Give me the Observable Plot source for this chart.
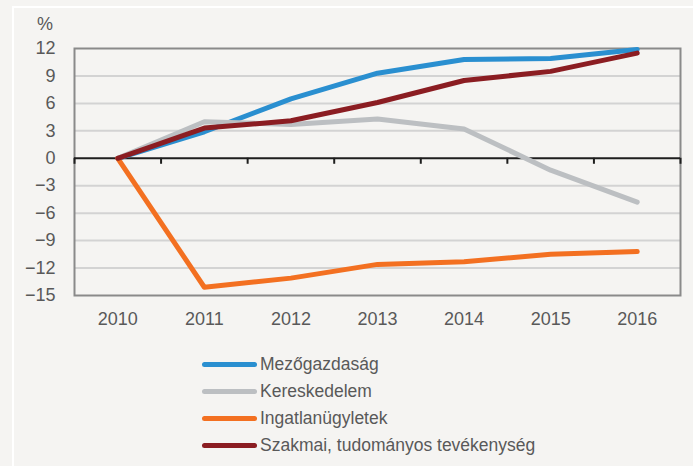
<!DOCTYPE html>
<html>
<head>
<meta charset="utf-8">
<script src="https://cdn.jsdelivr.net/npm/d3@7"></script>
<script src="https://cdn.jsdelivr.net/npm/@observablehq/plot@0.6"></script>
<style>
  html, body { margin: 0; padding: 0; background: #f5f4f2; }
  #wrap { position: relative; width: 693px; height: 466px; overflow: hidden; background: #f5f4f2;
          font-family: "Liberation Sans", Arial, sans-serif; color: #595959; }
  #frame { position: absolute; left: 12px; top: 6px; width: 720px; height: 500px; border: 2px solid #ffffff; }
  #chart { position: absolute; left: 0; top: 0; }
  #unit { position: absolute; left: 37px; top: 14px; font-size: 18px; }
  #legend { position: absolute; left: 202px; top: 351px; }
  .row { display: flex; align-items: center; height: 27px; font-size: 17.5px; }
  .sw { width: 55px; height: 5px; border-radius: 3px; margin-right: 3px; }
</style>
</head>
<body>
<div id="wrap">
  <div id="frame"></div>
  <div id="chart"></div>
  <div id="unit">%</div>
  <div id="legend"></div>
</div>
<script>
const years = [2010, 2011, 2012, 2013, 2014, 2015, 2016];
const seriesNames = ["Mezőgazdaság", "Kereskedelem", "Ingatlanügyletek", "Szakmai, tudományos tevékenység"];
const seriesColors = ["#2a8fd0", "#bcbfc2", "#f37021", "#8b1d22"];
const mezogazdasag = [0, 2.9, 6.5, 9.3, 10.8, 10.9, 11.9];
const kereskedelem = [0, 4.0, 3.7, 4.3, 3.2, -1.3, -4.8];
const ingatlan = [0, -14.1, -13.1, -11.6, -11.3, -10.5, -10.2];
const szakmai = [0, 3.3, 4.1, 6.1, 8.5, 9.5, 11.5];
const yTicks = [-15, -12, -9, -6, -3, 0, 3, 6, 9, 12];

const seriesValues = [mezogazdasag, kereskedelem, ingatlan, szakmai];
const data = seriesNames.flatMap((name, s) => years.map((year, i) => ({series: name, year, value: seriesValues[s][i]})));
const boundaries = [years[0] - 0.5, ...years.map(y => y + 0.5)];
const gridValues = yTicks.filter(v => v !== 0 && v !== yTicks[0] && v !== yTicks[yTicks.length - 1]);

const fontFam = '"Liberation Sans", Arial, sans-serif';

const chart = Plot.plot({
  width: 693,
  height: 340,
  marginTop: 48,
  marginLeft: 74,
  marginRight: 13,
  marginBottom: 45,
  style: {background: "transparent", fontFamily: fontFam, fontSize: "18px", color: "#595959"},
  x: {type: "linear", domain: [boundaries[0], boundaries[boundaries.length - 1]]},
  y: {domain: [yTicks[0], yTicks[yTicks.length - 1]]},
  color: {domain: seriesNames, range: seriesColors},
  marks: [
    Plot.ruleY(gridValues, {stroke: "#d3d3d3", strokeWidth: 2}),
    Plot.frame({stroke: "#8a8a8a", strokeWidth: 2}),
    Plot.ruleY([0], {stroke: "#1e1e1e", strokeWidth: 2}),
    Plot.ruleX(boundaries, {y1: 0, y2: 0, insetBottom: -6, stroke: "#1e1e1e", strokeWidth: 2}),
    Plot.axisY({ticks: yTicks, tickSize: 0, tickPadding: 19, label: null, fill: "#595959", fontSize: 18}),
    Plot.axisX({ticks: years, tickFormat: d => String(d), tickSize: 0, tickPadding: 17, label: null, fill: "#595959", fontSize: 18}),
    Plot.line(data, {x: "year", y: "value", z: "series", stroke: "series", strokeWidth: 5, strokeLinecap: "round", strokeLinejoin: "round"})
  ]
});
document.getElementById("chart").appendChild(chart);

const legend = document.getElementById("legend");
seriesNames.forEach((name, i) => {
  const row = document.createElement("div");
  row.className = "row";
  const sw = document.createElement("div");
  sw.className = "sw";
  sw.style.background = seriesColors[i];
  const t = document.createElement("span");
  t.textContent = name;
  row.appendChild(sw);
  row.appendChild(t);
  legend.appendChild(row);
});
</script>
</body>
</html>
